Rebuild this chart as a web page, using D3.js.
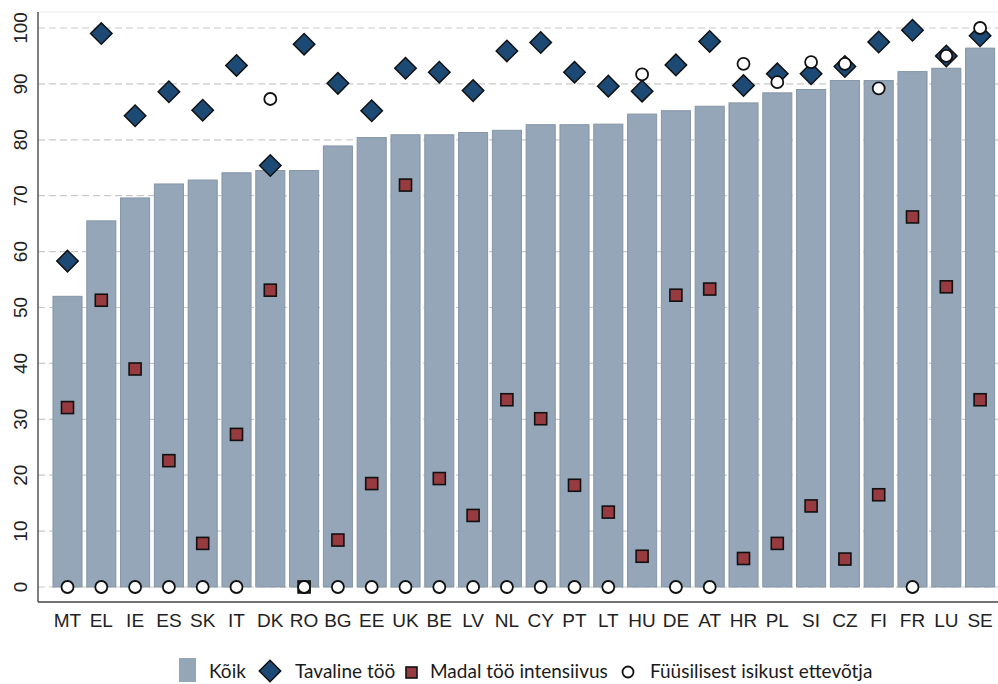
<!DOCTYPE html>
<html>
<head>
<meta charset="utf-8">
<script src="https://cdn.jsdelivr.net/npm/d3@7"></script>
<style>
  body { margin: 0; background: #fff; }
  svg { display: block; }
  .tick-label { font-family: "Liberation Sans", Arial, sans-serif; font-size: 19px; fill: #222; }
  .legend-text { font-family: Lato, "Open Sans", sans-serif; font-size: 19px; fill: #1a1a1a; }
</style>
</head>
<body>
<svg id="chart" width="998" height="684"></svg>
<script>
// Country codes, sorted by the "Kõik" share
const countries = ['MT', 'EL', 'IE', 'ES', 'SK', 'IT', 'DK', 'RO', 'BG', 'EE', 'UK', 'BE', 'LV', 'NL',
    'CY', 'PT', 'LT', 'HU', 'DE', 'AT', 'HR', 'PL', 'SI', 'CZ', 'FI', 'FR', 'LU', 'SE'];

// Kõik (bars)
const koik = [52.0, 65.5, 69.6, 72.1, 72.8, 74.1, 74.5, 74.5, 78.9, 80.4, 80.9, 80.9, 81.3, 81.7,
    82.7, 82.7, 82.8, 84.6, 85.2, 86.0, 86.6, 88.4, 89.0, 90.6, 90.6, 92.2, 92.8, 96.4];

// Tavaline töö (diamonds)
const tavaline = [58.3, 99.0, 84.3, 88.6, 85.3, 93.3, 75.4, 97.1, 90.1, 85.2, 92.8, 92.1, 88.8, 95.9,
    97.4, 92.1, 89.6, 88.7, 93.4, 97.6, 89.7, 91.8, 91.8, 93.1, 97.5, 99.6, 95.0, 98.6];

// Madal töö intensiivus (squares)
const madal = [32.1, 51.3, 39.0, 22.6, 7.8, 27.3, 53.1, 0, 8.4, 18.5, 71.9, 19.4, 12.8, 33.5,
    30.1, 18.2, 13.4, 5.5, 52.2, 53.3, 5.1, 7.8, 14.5, 5.0, 16.5, 66.2, 53.7, 33.5];

// Füüsilisest isikust ettevõtja (circles), null = no marker
const fuusiline = [0, 0, 0, 0, 0, 0, 87.3, 0, 0, 0, 0, 0, 0, 0,
    0, 0, 0, 91.7, 0, 0, 93.6, 90.3, 93.9, 93.6, 89.2, 0, 95.0, 100.0];

const yTicks = [0, 10, 20, 30, 40, 50, 60, 70, 80, 90, 100];

const legendItems = ['Kõik', 'Tavaline töö', 'Madal töö intensiivus', 'Füüsilisest isikust ettevõtja'];

const barColor = '#94a6b8';
const diamondColor = '#1d4a75';
const squareColor = '#983b40';

const svg = d3.select('#chart');

const plot = { left: 38, top: 12, right: 998, bottom: 602 };

const x = d3.scaleBand()
    .domain(countries)
    .range([50.6, 997])
    .paddingInner(0.14)
    .paddingOuter(0.07);

const y = d3.scaleLinear().domain([0, 100]).range([587, 28]);

const cx = d => x(d) + x.bandwidth() / 2;

// faint frame line on top
svg.append('line')
    .attr('x1', plot.left).attr('x2', plot.right)
    .attr('y1', plot.top).attr('y2', plot.top)
    .attr('stroke', '#ececec');

// dashed gridlines
svg.append('g')
    .selectAll('line')
    .data(yTicks)
    .enter()
    .append('line')
    .attr('x1', plot.left)
    .attr('x2', plot.right)
    .attr('y1', d => y(d))
    .attr('y2', d => y(d))
    .attr('stroke', '#c9c9c9')
    .attr('stroke-width', 1.2)
    .attr('stroke-dasharray', '7,4');

// y tick labels, rotated
svg.append('g')
    .selectAll('text')
    .data(yTicks)
    .enter()
    .append('text')
    .attr('class', 'tick-label')
    .attr('transform', d => `translate(27,${y(d)}) rotate(-90)`)
    .attr('text-anchor', 'middle')
    .text(d => d);

// bars
svg.append('g')
    .selectAll('rect')
    .data(countries)
    .enter()
    .append('rect')
    .attr('x', d => x(d))
    .attr('y', (d, i) => y(koik[i]))
    .attr('width', x.bandwidth())
    .attr('height', (d, i) => y(0) - y(koik[i]))
    .attr('fill', barColor)
    .attr('stroke', '#8595a6')
    .attr('stroke-width', 1);

// axes lines
svg.append('line')
    .attr('x1', plot.left).attr('x2', plot.left)
    .attr('y1', plot.top).attr('y2', plot.bottom)
    .attr('stroke', '#555').attr('stroke-width', 1.5);
svg.append('line')
    .attr('x1', plot.left).attr('x2', plot.right)
    .attr('y1', plot.bottom).attr('y2', plot.bottom)
    .attr('stroke', '#444').attr('stroke-width', 1.5);

// x labels
svg.append('g')
    .selectAll('text')
    .data(countries)
    .enter()
    .append('text')
    .attr('class', 'tick-label')
    .attr('x', d => cx(d))
    .attr('y', 627)
    .attr('text-anchor', 'middle')
    .text(d => d);

const diamond = d3.symbol().type(d3.symbolSquare).size(230);

// Tavaline töö
svg.append('g')
    .selectAll('path')
    .data(countries)
    .enter()
    .append('path')
    .attr('d', diamond)
    .attr('transform', (d, i) => `translate(${cx(d)},${y(tavaline[i])}) rotate(45)`)
    .attr('fill', diamondColor)
    .attr('stroke', '#111')
    .attr('stroke-width', 1.5);

// Madal töö intensiivus
const sq = 12;
svg.append('g')
    .selectAll('rect')
    .data(countries)
    .enter()
    .append('rect')
    .attr('x', d => cx(d) - sq / 2)
    .attr('y', (d, i) => y(madal[i]) - sq / 2)
    .attr('width', sq)
    .attr('height', sq)
    .attr('fill', squareColor)
    .attr('stroke', '#111')
    .attr('stroke-width', 1.6);

// Füüsilisest isikust ettevõtja
svg.append('g')
    .selectAll('circle')
    .data(countries.filter((d, i) => fuusiline[i] !== null))
    .enter()
    .append('circle')
    .attr('cx', d => cx(d))
    .attr('cy', d => y(fuusiline[countries.indexOf(d)]))
    .attr('r', 6)
    .attr('fill', '#fff')
    .attr('stroke', '#111')
    .attr('stroke-width', 1.8);

// legend
const lg = svg.append('g').attr('class', 'legend');
lg.append('rect')
    .attr('x', 179).attr('y', 658)
    .attr('width', 17).attr('height', 24)
    .attr('fill', barColor);
lg.append('path')
    .attr('d', diamond)
    .attr('transform', 'translate(270,671) rotate(45)')
    .attr('fill', diamondColor)
    .attr('stroke', '#111')
    .attr('stroke-width', 1.5);
lg.append('rect')
    .attr('x', 406).attr('y', 667)
    .attr('width', 11).attr('height', 11)
    .attr('fill', squareColor)
    .attr('stroke', '#111')
    .attr('stroke-width', 1.6);
lg.append('circle')
    .attr('cx', 628).attr('cy', 672)
    .attr('r', 5.5)
    .attr('fill', '#fff')
    .attr('stroke', '#111')
    .attr('stroke-width', 1.8);

const legendX = [209, 295, 430, 650];
lg.selectAll('text')
    .data(legendItems)
    .enter()
    .append('text')
    .attr('class', 'legend-text')
    .attr('x', (d, i) => legendX[i])
    .attr('y', 678)
    .text(d => d);
</script>
</body>
</html>
